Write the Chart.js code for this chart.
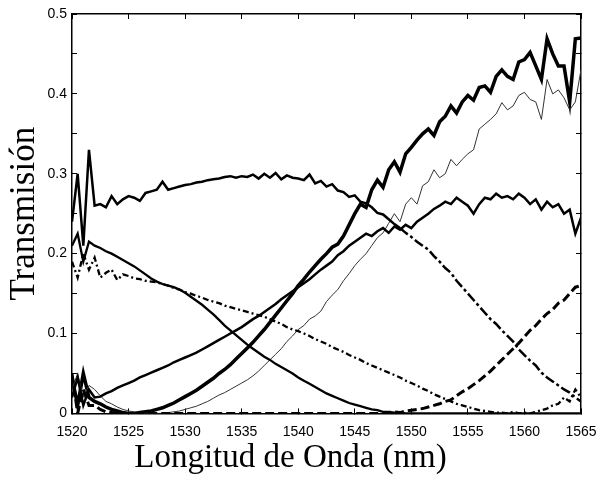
<!DOCTYPE html>
<html>
<head>
<meta charset="utf-8">
<script src="https://cdn.jsdelivr.net/npm/chart.js@4.4.1/dist/chart.umd.min.js"></script>
<style>
  html, body { margin: 0; padding: 0; background: #fff; }
  #wrap { width: 600px; height: 478px; }
</style>
</head>
<body>
<div id="wrap"><canvas id="canvas_trans" width="600" height="478"></canvas></div>
<script>
'use strict';

// longitud de onda (nm), paso 0.5
var longitud = [
    1520, 1520.5, 1521, 1521.5, 1522, 1522.5, 1523, 1523.5, 1524, 1524.5,
    1525, 1525.5, 1526, 1526.5, 1527, 1527.5, 1528, 1528.5, 1529, 1529.5,
    1530, 1530.5, 1531, 1531.5, 1532, 1532.5, 1533, 1533.5, 1534, 1534.5,
    1535, 1535.5, 1536, 1536.5, 1537, 1537.5, 1538, 1538.5, 1539, 1539.5,
    1540, 1540.5, 1541, 1541.5, 1542, 1542.5, 1543, 1543.5, 1544, 1544.5,
    1545, 1545.5, 1546, 1546.5, 1547, 1547.5, 1548, 1548.5, 1549, 1549.5,
    1550, 1550.5, 1551, 1551.5, 1552, 1552.5, 1553, 1553.5, 1554, 1554.5,
    1555, 1555.5, 1556, 1556.5, 1557, 1557.5, 1558, 1558.5, 1559, 1559.5,
    1560, 1560.5, 1561, 1561.5, 1562, 1562.5, 1563, 1563.5, 1564, 1564.5,
    1565
];

var curvaPlana = [
    0.24, 0.30, 0.21, 0.33, 0.26, 0.262, 0.258, 0.272, 0.262, 0.268,
    0.272, 0.27, 0.266, 0.276, 0.278, 0.28, 0.29, 0.28, 0.282, 0.284,
    0.286, 0.287, 0.289, 0.29, 0.292, 0.293, 0.294, 0.296, 0.297, 0.295,
    0.297, 0.296, 0.299, 0.294, 0.30, 0.295, 0.301, 0.293, 0.298, 0.295,
    0.294, 0.292, 0.299, 0.288, 0.291, 0.284, 0.287, 0.279, 0.277, 0.271,
    0.273, 0.265, 0.263, 0.258, 0.251, 0.249, 0.243, 0.237, 0.232, 0.226,
    0.221, 0.215, 0.21, 0.205, 0.197, 0.19, 0.182, 0.176, 0.166, 0.158,
    0.15, 0.142, 0.134, 0.126, 0.118, 0.112, 0.104, 0.097, 0.09, 0.08,
    0.073, 0.066, 0.06, 0.051, 0.045, 0.04, 0.035, 0.03, 0.026, 0.02,
    0.015
];

var curvaGruesa = [
    0.045, 0.01, 0.05, 0.02, 0.015, 0.012, 0.008, 0.005, 0.003, 0.001,
    0.0, 0.0, 0.001, 0.002, 0.003, 0.005, 0.007, 0.01, 0.013, 0.017,
    0.021, 0.025, 0.029, 0.034, 0.039, 0.044, 0.05, 0.055, 0.061, 0.068,
    0.075, 0.082, 0.089, 0.097, 0.105, 0.114, 0.123, 0.132, 0.141, 0.15,
    0.16, 0.168, 0.177, 0.185, 0.193, 0.2, 0.208, 0.212, 0.222, 0.236,
    0.25, 0.262, 0.258, 0.28, 0.292, 0.283, 0.305, 0.315, 0.302, 0.325,
    0.333, 0.342, 0.35, 0.356, 0.348, 0.365, 0.372, 0.385, 0.376, 0.39,
    0.398, 0.392, 0.408, 0.41, 0.402, 0.422, 0.43, 0.422, 0.418, 0.44,
    0.443, 0.452, 0.435, 0.418, 0.469, 0.45, 0.435, 0.435, 0.39, 0.469,
    0.47
];

var curvaFina = [
    0.03, 0.05, 0.02, 0.035, 0.03, 0.022, 0.015, 0.012, 0.008, 0.005,
    0.003, 0.002, 0.001, 0.0, 0.0, 0.0, 0.0, 0.001, 0.002, 0.003,
    0.005, 0.007, 0.009, 0.012, 0.015, 0.019, 0.023, 0.026, 0.03, 0.034,
    0.038, 0.042, 0.047, 0.053, 0.06, 0.067, 0.074, 0.081, 0.09, 0.097,
    0.105, 0.11, 0.118, 0.122, 0.128, 0.14, 0.148, 0.155, 0.166, 0.175,
    0.185, 0.193, 0.2, 0.21, 0.22, 0.226, 0.238, 0.25, 0.24, 0.262,
    0.27, 0.262, 0.285, 0.29, 0.305, 0.295, 0.3, 0.318, 0.31, 0.318,
    0.325, 0.33, 0.356, 0.362, 0.368, 0.375, 0.389, 0.38, 0.385, 0.398,
    0.402, 0.393, 0.39, 0.368, 0.418, 0.4, 0.405, 0.395, 0.38, 0.39,
    0.43
];

var curvaMeseta = [
    0.02, 0.045, 0.01, 0.03, 0.02, 0.021, 0.025, 0.028, 0.032, 0.035,
    0.038, 0.041, 0.045, 0.048, 0.051, 0.054, 0.057, 0.06, 0.064, 0.067,
    0.07, 0.073, 0.076, 0.08, 0.084, 0.088, 0.092, 0.096, 0.1, 0.104,
    0.108, 0.113, 0.118, 0.122, 0.127, 0.132, 0.137, 0.143, 0.148, 0.153,
    0.158, 0.163, 0.168, 0.174, 0.18, 0.185, 0.19, 0.198, 0.203, 0.21,
    0.215, 0.22, 0.225, 0.222, 0.228, 0.232, 0.226, 0.234, 0.23, 0.236,
    0.232, 0.24, 0.245, 0.25, 0.256, 0.26, 0.265, 0.262, 0.27, 0.265,
    0.26, 0.25, 0.262, 0.27, 0.268, 0.275, 0.27, 0.272, 0.268, 0.275,
    0.27, 0.262, 0.268, 0.255, 0.265, 0.258, 0.262, 0.25, 0.255, 0.225,
    0.245
];

var curvaBaja = [
    0.21, 0.225, 0.19, 0.215, 0.21, 0.207, 0.203, 0.2, 0.196, 0.192,
    0.188, 0.184, 0.179, 0.174, 0.169, 0.165, 0.162, 0.16, 0.158, 0.155,
    0.151, 0.146, 0.141, 0.136, 0.13, 0.124, 0.117, 0.11, 0.104, 0.098,
    0.092, 0.086, 0.081, 0.076, 0.071, 0.067, 0.062, 0.058, 0.054, 0.05,
    0.045, 0.041, 0.037, 0.033, 0.029, 0.025, 0.022, 0.019, 0.016, 0.013,
    0.011, 0.009, 0.007, 0.005, 0.004, 0.002, 0.002, 0.001, 0.001, 0.0,
    0.0, 0.0, 0.0, 0.0, 0.0, 0.0, 0.0, 0.0, 0.0, 0.0,
    0.0, 0.0, 0.0, 0.0, 0.0, 0.0, 0.0, 0.0, 0.0, 0.0,
    0.0, 0.0, 0.0, 0.0, 0.0, 0.0, 0.0, 0.0, 0.0, 0.0,
    0.0
];

var curvaPuntoRaya = [
    0.19, 0.17, 0.2, 0.18, 0.195, 0.17, 0.176, 0.18, 0.167, 0.174,
    0.172, 0.169, 0.168, 0.166, 0.165, 0.164, 0.162, 0.16, 0.157, 0.155,
    0.152, 0.15, 0.147, 0.145, 0.142, 0.14, 0.138, 0.135, 0.133, 0.131,
    0.129, 0.127, 0.125, 0.123, 0.121, 0.118, 0.115, 0.112, 0.108, 0.105,
    0.103, 0.1, 0.097, 0.093, 0.09, 0.087, 0.083, 0.08, 0.077, 0.073,
    0.07, 0.067, 0.063, 0.06, 0.057, 0.054, 0.051, 0.048, 0.045, 0.041,
    0.038, 0.035, 0.031, 0.028, 0.024, 0.021, 0.018, 0.015, 0.012, 0.01,
    0.008, 0.006, 0.004, 0.003, 0.002, 0.001, 0.001, 0.0, 0.002, 0.0,
    0.001, 0.0, 0.002, 0.004, 0.006, 0.01, 0.012, 0.02, 0.015, 0.03,
    0.02
];

var curvaRayas = [
    0.05, 0.0, 0.03, 0.01, 0.01, 0.005, 0.002, 0.001, 0.0, 0.0,
    0.0, 0.0, 0.0, 0.0, 0.0, 0.0, 0.0, 0.0, 0.0, 0.0,
    0.0, 0.0, 0.0, 0.0, 0.0, 0.0, 0.0, 0.0, 0.0, 0.0,
    0.0, 0.0, 0.0, 0.0, 0.0, 0.0, 0.0, 0.0, 0.0, 0.0,
    0.0, 0.0, 0.0, 0.0, 0.0, 0.0, 0.0, 0.0, 0.0, 0.0,
    0.0, 0.0, 0.0, 0.0, 0.0, 0.0, 0.001, 0.002, 0.001, 0.003,
    0.004, 0.005, 0.006, 0.008, 0.01, 0.012, 0.015, 0.017, 0.022, 0.027,
    0.031, 0.036, 0.041, 0.047, 0.053, 0.06, 0.067, 0.074, 0.081, 0.088,
    0.096, 0.104, 0.11, 0.118, 0.125, 0.13, 0.138, 0.142, 0.15, 0.158,
    0.16
];

function puntos(serie) {
    return longitud.map(function (x, i) {
        return { x : x, y : serie[i] };
    });
}

function linea(serie, ancho, color, dash) {
    var d = {
        data        : puntos(serie),
        borderColor : color,
        borderWidth : ancho,
        pointRadius : 0,
        tension     : 0,
        fill        : false
    };
    if (dash) d.borderDash = dash;
    return d;
}

var plana = linea(curvaPlana, 2.5, '#000');
// la parte que baja se ve a trazos
plana.segment = {
    borderDash : function (ctx) {
        return ctx.p0.parsed.x >= 1549 ? [10, 3, 3, 3] : [];
    }
};

// marcas hacia dentro (tickLength negativo) y marco con ejes extra arriba y a la derecha
var rejilla = {
    display         : true,
    drawOnChartArea : false,
    drawTicks       : true,
    tickLength      : -5,
    color           : '#000',
    lineWidth       : 1
};
var borde = { display : true, color : '#000', width : 1.5 };
var fuenteEje = { family : 'Liberation Sans', size : 14 };

var config = {
    type : 'line',
    data : {
        datasets : [
            plana,
            linea(curvaMeseta, 2.5, '#000'),
            linea(curvaBaja, 2.3, '#000'),
            linea(curvaPuntoRaya, 2.3, '#000', [6, 3, 2, 3]),
            linea(curvaRayas, 3, '#000', [9, 4]),
            linea(curvaFina, 1, '#333'),
            linea(curvaGruesa, 3.5, '#000')
        ]
    },
    options : {
        responsive : false,
        animation  : false,
        layout     : { padding : { left : 0, right : 19, top : 14, bottom : 0 } },
        plugins    : {
            legend  : { display : false },
            tooltip : { enabled : false },
            title   : {
                display  : true,
                position : 'bottom',
                text     : 'Longitud de Onda (nm)',
                color    : '#000',
                padding  : { top : 0, bottom : 0 },
                font     : { family : 'Liberation Serif', size : 33, weight : 'normal', lineHeight : 1.2 }
            }
        },
        scales : {
            x : {
                type   : 'linear',
                min    : 1520,
                max    : 1565,
                grid   : rejilla,
                border : borde,
                afterFit : function (scale) {
                    scale.height = 25;
                    scale.paddingLeft = 0;
                    scale.paddingRight = 0;
                },
                ticks  : {
                    stepSize : 5,
                    padding  : 15,
                    color    : '#000',
                    maxRotation : 0,
                    font     : fuenteEje,
                    callback : function (v) { return String(v); }
                }
            },
            x2 : {
                type     : 'linear',
                position : 'top',
                min      : 1520,
                max      : 1565,
                grid     : rejilla,
                border   : borde,
                afterFit : function (scale) {
                    scale.height = 0;
                    scale.paddingLeft = 0;
                    scale.paddingRight = 0;
                },
                ticks    : { stepSize : 5, display : false }
            },
            y : {
                min    : 0,
                max    : 0.5,
                grid   : rejilla,
                border : borde,
                afterFit : function (scale) {
                    scale.width = 72;
                    scale.paddingTop = 0;
                    scale.paddingBottom = 0;
                },
                title  : {
                    display : true,
                    text    : 'Transmisión',
                    color   : '#000',
                    padding : { top : 4, bottom : 0 },
                    font    : { family : 'Liberation Serif', size : 35, lineHeight : 1.2 }
                },
                ticks  : {
                    stepSize : 0.05,
                    padding  : 10,
                    color    : '#000',
                    autoSkip : false,
                    font     : fuenteEje,
                    callback : function (v) {
                        var r = Math.round(v * 100);
                        if (r % 10 !== 0) return '';
                        return r === 0 ? '0' : (r / 100).toFixed(1);
                    }
                }
            },
            y2 : {
                position : 'right',
                min      : 0,
                max      : 0.5,
                grid     : rejilla,
                border   : borde,
                afterFit : function (scale) {
                    scale.width = 0;
                    scale.paddingTop = 0;
                    scale.paddingBottom = 0;
                },
                ticks    : { stepSize : 0.05, display : false, autoSkip : false }
            }
        }
    }
};

var canvasTr = document.getElementById('canvas_trans').getContext('2d');
window.grafica = new Chart(canvasTr, config);
</script>
</body>
</html>
